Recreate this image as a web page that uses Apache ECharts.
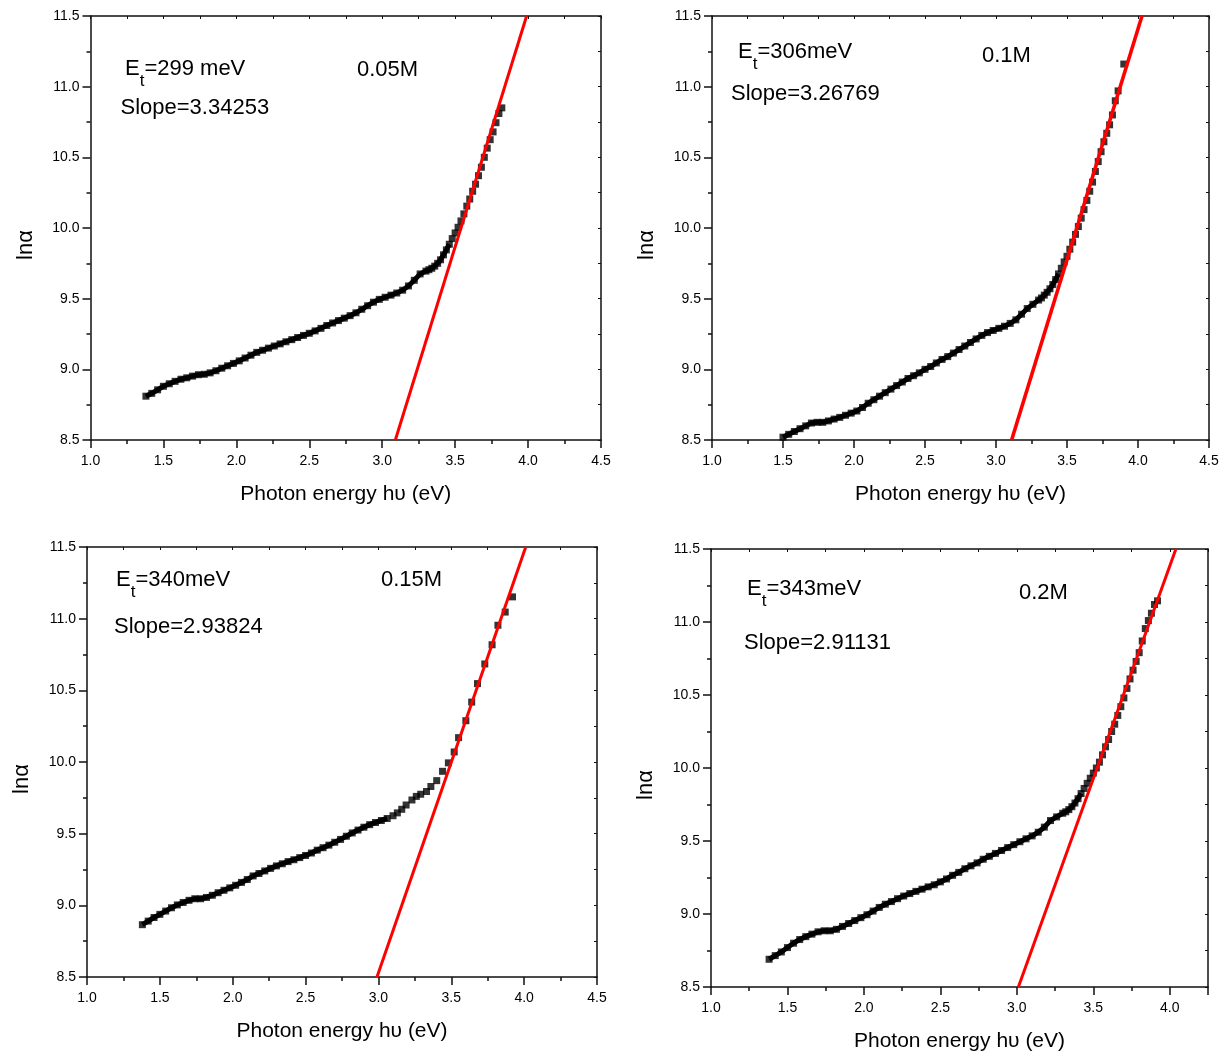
<!DOCTYPE html>
<html><head><meta charset="utf-8">
<script src="https://cdn.jsdelivr.net/npm/echarts@6/dist/echarts.min.js"></script>
<style>html,body{margin:0;padding:0;background:#fff}#c{width:1230px;height:1059px}</style>
</head><body><div id="c"></div>
<script>
// ---------- data ----------
const hv1 = [1.38,1.42,1.46,1.50,1.54,1.58,1.62,1.66,1.70,1.74,1.78,1.82,1.86,1.90,1.94,1.98,2.02,2.06,2.10,2.14,2.18,2.22,2.26,2.30,2.34,2.38,2.42,2.46,2.50,2.54,2.58,2.62,2.66,2.70,2.74,2.78,2.82,2.86,2.90,2.94,2.98,3.02,3.06,3.10,3.14,3.18,3.22,3.26,3.30,
  3.32,3.34,3.36,3.38,3.40,3.42,3.44,3.46,3.48,3.50,3.52,3.54,3.56,3.58,3.60,3.62,3.64,3.66,3.68,3.70,3.72,3.74,3.76,3.78,3.80,3.82];
const lnA1 = [8.81,8.83,8.855,8.88,8.898,8.915,8.93,8.94,8.952,8.962,8.965,8.975,8.99,9.008,9.025,9.042,9.06,9.08,9.10,9.12,9.135,9.15,9.165,9.18,9.195,9.21,9.225,9.24,9.255,9.272,9.29,9.31,9.328,9.345,9.362,9.38,9.40,9.425,9.45,9.475,9.495,9.51,9.525,9.54,9.56,9.59,9.63,9.675,9.695,
  9.705,9.715,9.73,9.75,9.775,9.81,9.845,9.885,9.925,9.965,10.005,10.05,10.10,10.155,10.205,10.26,10.31,10.37,10.43,10.50,10.565,10.625,10.68,10.745,10.81,10.85];

const hv2 = [1.50,1.54,1.58,1.62,1.66,1.70,1.74,1.78,1.82,1.86,1.90,1.94,1.98,2.02,2.06,2.10,2.14,2.18,2.22,2.26,2.30,2.34,2.38,2.42,2.46,2.50,2.54,2.58,2.62,2.66,2.70,2.74,2.78,2.82,2.86,2.90,2.94,2.98,3.02,3.06,3.10,3.14,3.18,3.22,3.26,3.30,
  3.32,3.34,3.36,3.38,3.40,3.42,3.44,3.46,3.48,3.50,3.52,3.54,3.56,3.58,3.60,3.62,3.64,3.66,3.68,3.70,3.72,3.74,3.76,3.78,3.80,3.82,3.84,3.86,3.90];
const lnA2 = [8.52,8.54,8.56,8.58,8.60,8.62,8.625,8.625,8.635,8.648,8.66,8.675,8.69,8.705,8.73,8.76,8.785,8.81,8.835,8.86,8.885,8.91,8.935,8.955,8.975,9.00,9.02,9.045,9.07,9.09,9.115,9.14,9.165,9.19,9.215,9.24,9.26,9.275,9.29,9.305,9.325,9.35,9.39,9.43,9.46,9.49,
  9.505,9.525,9.545,9.57,9.60,9.635,9.675,9.715,9.76,9.80,9.85,9.90,9.955,10.01,10.07,10.13,10.195,10.26,10.325,10.40,10.47,10.54,10.61,10.67,10.73,10.80,10.90,10.97,11.16];

const hv3 = [1.38,1.42,1.46,1.50,1.54,1.58,1.62,1.66,1.70,1.74,1.78,1.82,1.86,1.90,1.94,1.98,2.02,2.06,2.10,2.14,2.18,2.22,2.26,2.30,2.34,2.38,2.42,2.46,2.50,2.54,2.58,2.62,2.66,2.70,2.74,2.78,2.82,2.86,2.90,2.94,2.98,3.02,3.06,3.10,
  3.13,3.16,3.19,3.23,3.26,3.29,3.33,3.36,3.40,3.44,3.48,3.52,3.55,3.60,3.64,3.68,3.73,3.78,3.82,3.87,3.92];
const lnA3 = [8.865,8.89,8.915,8.937,8.96,8.983,9.003,9.02,9.035,9.046,9.046,9.055,9.07,9.088,9.105,9.122,9.14,9.16,9.18,9.205,9.222,9.24,9.258,9.275,9.29,9.305,9.318,9.333,9.348,9.365,9.385,9.402,9.42,9.44,9.46,9.482,9.505,9.525,9.545,9.563,9.578,9.592,9.606,9.625,
  9.645,9.67,9.70,9.735,9.76,9.775,9.794,9.829,9.87,9.935,9.994,10.07,10.17,10.288,10.418,10.547,10.684,10.818,10.954,11.046,11.152];

const hv4 = [1.38,1.42,1.46,1.50,1.54,1.58,1.62,1.66,1.70,1.74,1.78,1.82,1.86,1.90,1.94,1.98,2.02,2.06,2.10,2.14,2.18,2.22,2.26,2.30,2.34,2.38,2.42,2.46,2.50,2.54,2.58,2.62,2.66,2.70,2.74,2.78,2.82,2.86,2.90,2.94,2.98,3.02,3.06,3.10,3.14,3.18,3.22,3.26,3.30,
  3.32,3.34,3.36,3.38,3.40,3.42,3.44,3.46,3.48,3.50,3.52,3.54,3.56,3.58,3.60,3.62,3.64,3.66,3.68,3.70,3.72,3.74,3.76,3.78,3.80,3.82,3.84,3.86,3.88,3.90,3.92];
const lnA4 = [8.69,8.715,8.74,8.77,8.80,8.825,8.845,8.862,8.878,8.885,8.885,8.895,8.915,8.935,8.955,8.975,8.995,9.02,9.045,9.067,9.085,9.105,9.123,9.14,9.155,9.17,9.186,9.20,9.22,9.24,9.265,9.285,9.31,9.33,9.35,9.375,9.395,9.415,9.435,9.455,9.475,9.495,9.515,9.535,9.56,9.595,9.64,9.665,9.69,
  9.70,9.715,9.735,9.76,9.79,9.825,9.86,9.895,9.93,9.965,10.00,10.04,10.09,10.145,10.195,10.25,10.30,10.36,10.42,10.48,10.545,10.61,10.67,10.73,10.79,10.87,10.955,11.01,11.06,11.12,11.145];

// linear fits (end points on the frame)
const fitHv1 = [3.09, 3.99];
const fitHv2 = [3.11, 4.028];
const fitHv3 = [2.99, 4.011];
const fitHv4 = [3.01, 4.04];
const fitLn = [8.5, 11.5];

const etTexts = ['299 meV', '306meV', '340meV', '343meV'];
const slopeTexts = ['Slope=3.34253', 'Slope=3.26769', 'Slope=2.93824', 'Slope=2.91131'];
const concTexts = ['0.05M', '0.1M', '0.15M', '0.2M'];
const xTitle = 'Photon energy h\u03c5 (eV)';
const yTitle = 'ln\u03b1';
const xMaxes = [4.5, 4.5, 4.5, 4.25];

// ---------- layout ----------
const FONT = '"Liberation Sans", Arial, Helvetica, sans-serif';
const grids = [
  {left: 90.5, top: 16, width: 510.5, height: 424},
  {left: 712, top: 16, width: 497, height: 424},
  {left: 87, top: 547, width: 510, height: 430},
  {left: 711, top: 549, width: 497, height: 438}
];
// [x, baseline] of annotation texts
const etPos = [[125, 77], [738, 60], [116, 588], [747, 597]];
const slopePos = [[120.5, 116], [731, 102], [114, 635], [744, 651]];
const concPos = [[357, 78], [982, 64], [381, 588], [1019, 601]];
const fitWidths = [3, 3.6, 3, 3];
// number of leading points where the markers merge into a continuous band
const bandCount = [57, 53, 43, 55];

const panels = [
  {hv: hv1, ln: lnA1, fit: fitHv1},
  {hv: hv2, ln: lnA2, fit: fitHv2},
  {hv: hv3, ln: lnA3, fit: fitHv3},
  {hv: hv4, ln: lnA4, fit: fitHv4}
];

const AX = '#111';
const xAxes = [], yAxes = [], series = [], graphics = [];
panels.forEach((p, i) => {
  xAxes.push({
    gridIndex: i, type: 'value', min: 1, max: xMaxes[i], interval: 0.5, position: 'bottom',
    axisLine: {onZero: false, lineStyle: {color: AX, width: 1.5}},
    axisTick: {inside: false, length: 8, lineStyle: {color: AX, width: 1.5}},
    minorTick: {show: true, splitNumber: 2, length: 4, lineStyle: {color: AX, width: 1.5}},
    splitLine: {show: false}, minorSplitLine: {show: false},
    axisLabel: {margin: 14, fontSize: 14, color: '#000', fontFamily: FONT,
      formatter: v => v.toFixed(1), showMaxLabel: xMaxes[i] === 4.5, showMinLabel: true},
    name: xTitle, nameLocation: 'middle', nameGap: 44,
    nameTextStyle: {fontSize: 21, color: '#000', fontFamily: FONT}
  });
  xAxes.push({
    gridIndex: i, type: 'value', min: 1, max: xMaxes[i], interval: 0.25, position: 'top',
    axisLine: {onZero: false, lineStyle: {color: AX, width: 1.5}},
    axisTick: {inside: true, length: 3, lineStyle: {color: AX, width: 1}},
    axisLabel: {show: false}, splitLine: {show: false}
  });
  yAxes.push({
    gridIndex: i, type: 'value', min: 8.5, max: 11.5, interval: 0.5, position: 'left',
    axisLine: {onZero: false, lineStyle: {color: AX, width: 1.5}},
    axisTick: {inside: false, length: 8, lineStyle: {color: AX, width: 1.5}},
    minorTick: {show: true, splitNumber: 2, length: 4, lineStyle: {color: AX, width: 1.5}},
    splitLine: {show: false}, minorSplitLine: {show: false},
    axisLabel: {margin: 11, fontSize: 14, color: '#000', fontFamily: FONT, formatter: v => v.toFixed(1)},
    name: yTitle, nameLocation: 'middle', nameGap: 54, nameRotate: 90,
    nameTextStyle: {fontSize: 22, color: '#000', fontFamily: FONT, padding: [0, 34, 0, 0]}
  });
  yAxes.push({
    gridIndex: i, type: 'value', min: 8.5, max: 11.5, interval: 0.25, position: 'right',
    axisLine: {onZero: false, lineStyle: {color: AX, width: 1.5}},
    axisTick: {inside: true, length: 3, lineStyle: {color: AX, width: 1}},
    axisLabel: {show: false}, splitLine: {show: false}
  });
  const pts = p.hv.map((x, k) => [x, p.ln[k]]);
  series.push({
    type: 'line', xAxisIndex: 2 * i, yAxisIndex: 2 * i,
    data: pts.slice(0, bandCount[i]),
    symbol: 'none', lineStyle: {color: '#000', width: 5, join: 'miter'}, silent: true, z: 2
  });
  series.push({
    type: 'scatter', xAxisIndex: 2 * i, yAxisIndex: 2 * i,
    data: pts,
    symbol: 'rect', symbolSize: 7, itemStyle: {color: '#000'}, silent: true, z: 2
  });
  series.push({
    type: 'line', xAxisIndex: 2 * i, yAxisIndex: 2 * i,
    data: p.fit.map((x, k) => [x, fitLn[k]]),
    symbol: 'none', lineStyle: {color: '#ff0000', width: fitWidths[i]}, silent: true, z: 3
  });

  const fs = 22;
  graphics.push({
    type: 'text', x: etPos[i][0], y: etPos[i][1] - 27.6,
    style: {
      text: '{e|E}{s|t}{e|=' + etTexts[i] + '}', fontFamily: FONT, verticalAlign: 'top', align: 'left',
      rich: {
        e: {fontSize: fs, fontFamily: FONT, lineHeight: 40, verticalAlign: 'middle', fill: '#000'},
        s: {fontSize: 17, fontFamily: FONT, lineHeight: 17, verticalAlign: 'bottom', fill: '#000'}
      }
    }
  });
  graphics.push({
    type: 'text', x: slopePos[i][0], y: slopePos[i][1] - 0.3465 * fs,
    style: {text: slopeTexts[i], font: fs + 'px ' + FONT, fill: '#000', verticalAlign: 'middle', align: 'left'}
  });
  graphics.push({
    type: 'text', x: concPos[i][0], y: concPos[i][1] - 0.3465 * fs,
    style: {text: concTexts[i], font: fs + 'px ' + FONT, fill: '#000', verticalAlign: 'middle', align: 'left'}
  });
});

const chart = echarts.init(document.getElementById('c'), null, {renderer: 'canvas'});
chart.setOption({
  animation: false,
  backgroundColor: '#fff',
  grid: grids.map(g => Object.assign({containLabel: false}, g)),
  xAxis: xAxes,
  yAxis: yAxes,
  series: series,
  graphic: graphics
});
</script></body></html>
